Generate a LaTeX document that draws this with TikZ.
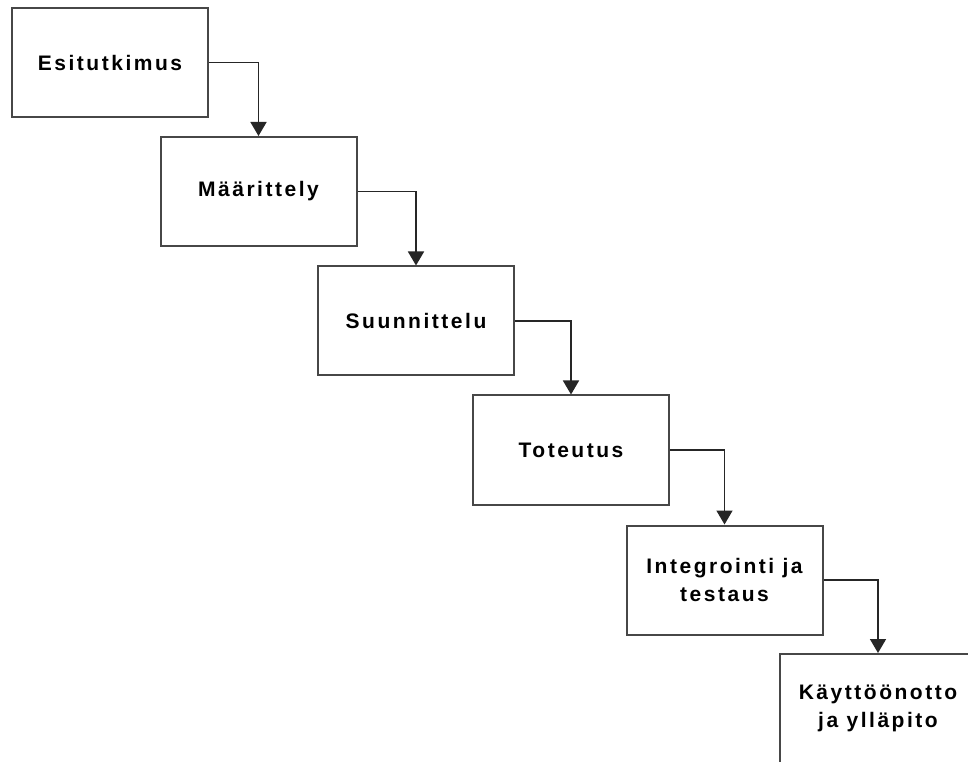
\documentclass[tikz,border=0pt]{standalone}
\usepackage{fontspec}
\newfontfamily\phasefont[LetterSpace=12]{Liberation Sans}
\usetikzlibrary{arrows.meta}

\tikzset{
  phase/.style={draw=black!72, line width=2pt, rectangle, align=center,
    minimum width=196pt, minimum height=109pt, inner sep=2pt,
    font=\phasefont\bfseries\fontsize{21}{28}\selectfont},
  flow/.style={draw=black!85, line width=1.6pt,
    -{Triangle[width=16pt,length=14pt]}}
}

\begin{document}
\begin{tikzpicture} [x=1pt, y=1pt]
\useasboundingbox (0,0) rectangle (968,761);
\clip (0,0) rectangle (968,761);
\fill[white] (0,0) rectangle (968,761);

\node[phase] (esi) at (110,698.5) {Esitutkimus};
\node[phase] (maar) at (258.5,569.5) {Määrittely};
\node[phase] (suun) at (416,440) {Suunnittelu};
\node[phase] (tot) at (571,311) {Toteutus};
\node[phase] (integ) at (724.5,181) {Integrointi ja\\testaus};
\node[phase] (kaytt) at (878,52.5) {Käyttöönotto\\ja ylläpito};

\foreach \a/\b in {esi/maar, maar/suun, suun/tot, tot/integ, integ/kaytt} \draw[flow] (\a.east) -| (\b.north);

\end{tikzpicture}
\end{document}
